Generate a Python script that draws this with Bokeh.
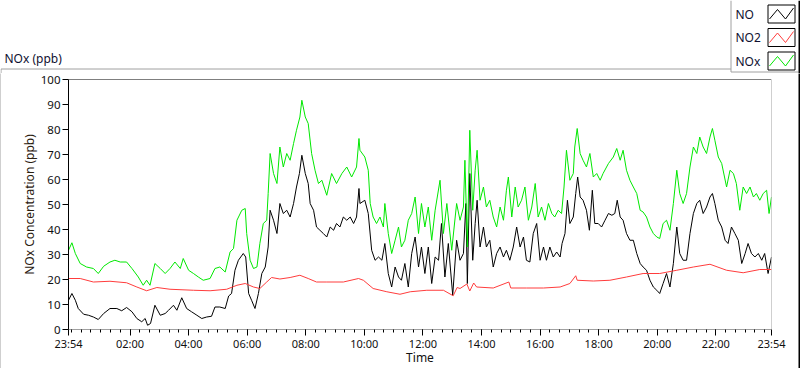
from bokeh.plotting import figure
from bokeh.layouts import column, row
from bokeh.models import Range1d, FixedTicker, Span
from bokeh.core.properties import value
from bokeh.embed import file_html
from bokeh.resources import INLINE

# ---------------- data (minutes after midnight, ppb) ----------------
NO_t = [-6, 1, 8, 14, 25, 35, 45, 55, 66, 79, 93, 103, 113, 124, 134, 144, 151, 156, 162, 171,
        182, 192, 199, 209, 216, 226, 236, 246, 257, 267, 277, 287, 294, 304, 315, 322, 328, 335, 342, 352,
        357, 363, 369, 376, 383, 390, 397, 403, 407, 414, 421, 427, 434, 441, 448, 455, 461, 467, 472, 479,
        485, 489, 496, 502, 509, 516, 523, 530, 537, 543, 550, 557, 564, 571, 578, 584, 589,
        591, 601, 608, 615, 622, 629, 636, 642, 649, 656, 663, 670, 676, 683, 690, 697, 704, 711, 717, 724,
        731, 738, 745, 752, 758, 765, 772, 781, 789, 796, 803, 808, 811, 816, 822, 827, 831, 837, 844, 850,
        857, 864, 871, 878, 885, 891, 898, 905, 912, 919, 926, 932, 939, 946, 953, 960, 967, 973, 980, 987,
        994, 1001, 1005, 1011, 1016, 1021, 1028, 1033, 1037, 1042, 1048, 1055, 1061, 1067, 1072, 1079, 1086, 1093, 1100, 1107,
        1113, 1118, 1124, 1130, 1137, 1144, 1151, 1158, 1165, 1171, 1178, 1185, 1192, 1199, 1205, 1212, 1219, 1226, 1233, 1240,
        1246, 1253, 1260, 1267, 1274, 1281, 1287, 1294, 1301, 1308, 1313, 1318, 1325, 1332, 1339, 1345, 1352, 1359, 1366, 1373,
        1380, 1386, 1393, 1400, 1407, 1414, 1420, 1427, 1434]
NO_v = [11.7, 14.4, 11.7, 8.4, 6.1, 5.7, 5.0, 4.0, 6.4, 8.4, 8.4, 7.5, 8.8, 7.1, 4.4, 3.1, 4.4, 1.7, 2.4, 9.7,
        5.7, 6.4, 7.7, 9.7, 7.7, 12.7, 8.4, 7.1, 5.7, 4.4, 5.0, 5.3, 9.0, 9.0, 8.4, 13.4, 14.4, 23.7, 27.7, 30.4,
        29.0, 14.4, 11.7, 8.4, 14.4, 22.4, 25.0, 33.0, 47.7, 43.7, 38.4, 50.4, 46.4, 47.7, 45.0, 50.4, 57.0, 62.4, 69.7, 62.4,
        58.4, 50.4, 47.7, 41.0, 39.7, 38.4, 37.0, 41.0, 39.7, 42.4, 41.0, 45.0, 43.7, 45.0, 42.4, 45.0, 56.4,
        50.4, 51.7, 46.4, 31.7, 27.7, 29.0, 27.7, 34.4, 22.4, 17.0, 25.0, 21.0, 19.7, 26.4, 17.0, 30.4, 37.0, 25.0, 33.0, 22.4,
        33.0, 18.4, 29.0, 27.7, 42.4, 21.0, 34.4, 13.7, 35.7, 27.7, 30.4, 50.4, 18.4, 62.4, 27.7, 42.4, 51.7, 33.0, 41.0, 33.0,
        35.7, 25.0, 30.4, 33.0, 29.0, 31.7, 27.7, 33.0, 41.0, 33.0, 37.0, 27.7, 27.0, 38.4, 42.4, 27.7, 33.0, 27.7, 33.0, 29.0,
        31.0, 29.0, 34.4, 38.4, 51.7, 42.4, 45.0, 54.4, 61.0, 53.0, 51.7, 47.7, 39.7, 55.7, 42.4, 42.4, 41.0, 43.7, 46.4, 45.7,
        46.4, 51.7, 45.0, 43.7, 38.4, 35.7, 35.7, 30.4, 26.4, 25.0, 23.7, 19.7, 17.0, 15.7, 14.4, 18.4, 22.4, 17.0, 26.4, 41.0,
        30.4, 27.7, 27.7, 38.4, 46.4, 50.4, 51.7, 46.4, 49.0, 53.0, 54.4, 50.4, 43.7, 41.0, 35.7, 34.4, 41.0, 38.4, 35.7, 26.4,
        30.4, 34.4, 30.4, 29.0, 30.4, 27.7, 30.4, 22.4, 29.0]

NO2_t = [-6, 18, 45, 79, 113, 134, 154, 175, 202, 250, 284, 318, 339, 356, 373, 386, 400, 410, 427, 448,
         468, 485, 502, 523, 557, 588, 598, 618, 646, 673, 694, 728, 762, 782, 790, 796, 810, 816, 824, 830,
         864, 896, 900, 932, 967, 1001, 1021, 1033, 1036, 1069, 1103, 1137, 1171, 1205, 1240, 1274, 1308, 1342, 1376, 1410,
         1434]
NO2_v = [20.4, 20.4, 19.0, 19.3, 18.7, 17.0, 15.5, 16.8, 16.1, 15.7, 15.5, 16.1, 17.7, 18.4, 17.0, 16.4, 19.0, 20.8, 20.2, 20.8,
         21.7, 20.4, 19.0, 19.0, 19.0, 20.4, 19.7, 16.4, 15.1, 14.1, 15.1, 15.7, 15.7, 13.5, 16.8, 16.4, 18.2, 15.4, 18.6, 17.0,
         16.6, 19.0, 16.6, 16.6, 16.6, 17.0, 18.4, 21.5, 19.7, 19.4, 19.7, 21.0, 22.4, 22.4, 23.7, 25.0, 26.1, 23.7, 22.7, 24.0,
         24.0]

NOx_t = [-6, 1, 8, 18, 31, 45, 55, 66, 79, 89, 100, 113, 124, 137, 147, 154, 161, 171, 182, 192,
         202, 212, 223, 229, 240, 250, 260, 270, 284, 294, 304, 315, 325, 332, 339, 349, 356, 359, 366, 373,
         380, 386, 393, 400, 403, 407, 414, 421, 427, 434, 441, 448, 455, 461, 468, 472, 479, 485, 492, 499,
         506, 513, 523, 533, 543, 554, 564, 574, 584, 589,
         591, 601, 608, 612, 618, 625, 632, 639, 642, 649, 656, 663, 670, 676, 683, 690, 697, 704, 711, 717,
         724, 731, 738, 745, 755, 762, 769, 779, 789, 796, 803, 806, 811, 816, 822, 827, 831, 837, 844, 850,
         857, 864, 871, 878, 885, 891, 895, 902, 909, 915, 922, 929, 936, 943, 950, 956, 963, 970, 977, 984,
         990, 997, 1004, 1009, 1014, 1021, 1028, 1031, 1036, 1042, 1048, 1055, 1062, 1069, 1076, 1083, 1089, 1100, 1110, 1117,
         1124, 1130, 1137, 1144, 1151, 1158, 1165, 1171, 1178, 1185, 1192, 1199, 1205, 1212, 1219, 1226, 1233, 1240, 1246, 1253,
         1260, 1267, 1274, 1281, 1287, 1294, 1301, 1308, 1313, 1318, 1325, 1332, 1342, 1349, 1356, 1362, 1369, 1376, 1383, 1390,
         1397, 1403, 1410, 1417, 1424, 1429, 1434]
NOx_v = [31.7, 34.7, 30.4, 26.4, 25.0, 24.4, 22.4, 25.3, 27.0, 27.7, 27.0, 27.0, 24.4, 21.0, 17.7, 19.7, 17.7, 26.4, 24.4, 22.4,
         24.4, 27.0, 24.4, 28.4, 23.7, 22.4, 21.0, 19.7, 20.4, 24.4, 25.0, 23.0, 31.0, 32.4, 43.7, 47.7, 48.4, 38.4, 27.7, 24.4,
         25.0, 34.4, 42.4, 43.7, 54.4, 70.4, 62.4, 58.4, 73.0, 65.0, 70.4, 67.7, 74.4, 79.7, 85.0, 91.7, 85.0, 82.4, 70.4, 63.7,
         58.4, 59.7, 53.7, 62.4, 58.4, 62.4, 65.0, 61.0, 65.0, 76.4,
         71.7, 69.0, 63.7, 50.4, 45.0, 42.4, 45.0, 41.0, 50.4, 38.4, 30.4, 35.7, 41.0, 33.0, 35.7, 43.7, 46.4, 53.0, 38.4, 50.4,
         41.0, 49.0, 35.7, 47.7, 59.7, 38.4, 50.4, 31.7, 50.4, 43.7, 49.0, 67.7, 33.0, 79.7, 47.7, 63.7, 71.7, 51.7, 57.0, 49.0,
         51.7, 45.0, 41.0, 49.0, 43.7, 55.7, 61.0, 45.0, 57.0, 49.0, 51.7, 57.0, 43.7, 49.0, 58.4, 45.0, 49.0, 43.7, 50.4, 46.4,
         45.0, 47.7, 46.4, 57.0, 71.7, 59.7, 62.4, 73.0, 80.4, 70.4, 67.7, 65.0, 70.4, 61.0, 62.4, 59.7, 62.4, 66.4, 69.0, 72.4,
         67.7, 71.7, 63.7, 59.7, 57.0, 54.4, 47.7, 47.0, 45.0, 41.0, 38.4, 37.0, 36.4, 42.4, 43.7, 39.7, 50.4, 63.7, 54.4, 50.4,
         54.4, 65.0, 73.0, 70.4, 77.0, 73.0, 70.4, 77.0, 80.4, 75.7, 69.0, 66.4, 57.0, 63.7, 62.4, 58.4, 47.7, 57.0, 54.4, 57.0,
         53.0, 54.4, 51.7, 54.4, 55.7, 46.4, 53.0]

X_TICKS = [-6, 120, 240, 360, 480, 600, 720, 840, 960, 1080, 1200, 1320, 1434]
X_LABELS = ["23:54", "02:00", "04:00", "06:00", "08:00", "10:00", "12:00",
            "14:00", "16:00", "18:00", "20:00", "22:00", "23:54"]
X_MINOR = list(range(0, 1440, 20))
Y_TICKS = list(range(0, 101, 10))
SERIES = ["NO", "NO2", "NOx"]
COLORS = ["#000000", "#ff3c3c", "#00e800"]

XMIN, XMAX, YMIN, YMAX = -6, 1434, 0, 100
FONT = "Noto Sans"
TOP_H = 73
BOT_H = 1
ROW_H = 369 - TOP_H - BOT_H


def strip(w, hgt, color):
    f = figure(width=w, height=hgt, output_backend="svg", toolbar_location=None,
               x_axis_location=None, y_axis_location=None,
               min_border=0, min_border_left=0, min_border_right=0, min_border_top=0, min_border_bottom=0,
               background_fill_color=color, border_fill_color=color)
    f.frame_align = False
    f.outline_line_color = None
    f.grid.visible = False
    return f


# ---------------- header strip (title + legend), pixel coordinates ----------------
h = figure(width=800, height=TOP_H, output_backend="svg", toolbar_location=None,
           x_range=Range1d(0, 800), y_range=Range1d(TOP_H, 0),
           x_axis_location=None, y_axis_location=None,
           min_border=0, min_border_left=0, min_border_right=0, min_border_top=0, min_border_bottom=0)
h.frame_align = False
h.outline_line_color = None
h.grid.visible = False
h.background_fill_color = "white"
h.border_fill_color = "white"

h.text(x=[4], y=[58], text=["NOx (ppb)"], text_font=value(FONT), text_font_size="12px",
       text_color="#101030", text_baseline="middle")
h.line([0.5, 730.5], [68.5, 68.5], line_color="#a0a0a0", line_width=1)
h.line([0.5, 0.5], [68.5, TOP_H], line_color="#a0a0a0", line_width=1)
h.line([730.5, 730.5, 798], [0, 71.5, 71.5], line_color="#a0a0a0", line_width=1)
h.line([799, 799], [0, TOP_H], line_color="#000000", line_width=2)

for i, (name, col) in enumerate(zip(SERIES, COLORS)):
    top = 4.5 + 23.5 * i
    h.text(x=[735], y=[top + 9], text=[name], text_font=value(FONT), text_font_size="12px",
           text_color="#101030", text_baseline="middle")
    h.quad(left=[767.5], right=[794.5], top=[top], bottom=[top + 18],
           fill_color="white", line_color="black", line_width=1)
    zx = [769, 777, 785, 793]
    zy = [top + 14, top + 4.5, top + 14, top + 3]
    h.line(zx, zy, line_color=col, line_width=1)

# ---------------- main chart ----------------
PW = 797
p = figure(width=PW, height=ROW_H, output_backend="svg", toolbar_location=None,
           x_range=Range1d(XMIN, XMAX), y_range=Range1d(YMIN, YMAX),
           min_border_left=67, min_border_right=PW - 67 - 703, min_border_top=79 - TOP_H,
           min_border_bottom=ROW_H - (79 - TOP_H) - 250)
p.frame_align = False
p.outline_line_color = None
p.grid.visible = False
p.background_fill_color = "white"
p.border_fill_color = "white"

for t, v, c in zip([NO_t, NO2_t, NOx_t], [NO_v, NO2_v, NOx_v], COLORS):
    p.line(t, v, line_color=c, line_width=1)

xa = p.xaxis[0]
xa.ticker = FixedTicker(ticks=X_TICKS, minor_ticks=X_MINOR)
xa.major_label_overrides = {t: l for t, l in zip(X_TICKS, X_LABELS)}
xa.axis_line_color = "#a0a0a0"
xa.major_tick_out = 6
xa.major_tick_in = 0
xa.minor_tick_out = 3
xa.minor_tick_in = 0
xa.major_tick_line_color = "black"
xa.minor_tick_line_color = "black"
xa.major_label_text_font = FONT
xa.major_label_text_font_size = "11px"
xa.major_label_text_color = "#101010"
xa.major_label_standoff = 0
xa.axis_label = "Time"
xa.axis_label_text_font = FONT
xa.axis_label_text_font_size = "12px"
xa.axis_label_text_font_style = "normal"
xa.axis_label_text_color = "#101010"
xa.axis_label_standoff = -5

ya = p.yaxis[0]
ya.ticker = FixedTicker(ticks=Y_TICKS)
ya.minor_tick_line_color = None
ya.major_tick_out = 6
ya.major_tick_in = 0
ya.axis_line_color = "black"
ya.major_tick_line_color = "black"
ya.major_label_text_font = FONT
ya.major_label_text_font_size = "11.5px"
ya.major_label_text_color = "#101010"
ya.major_label_standoff = 2
ya.axis_label = "NOx Concentration (ppb)"
ya.axis_label_text_font = FONT
ya.axis_label_text_font_size = "12px"
ya.axis_label_text_font_style = "normal"
ya.axis_label_text_color = "#2a2010"
ya.axis_label_standoff = 0

p.add_layout(Span(location=YMAX, dimension="width", line_color="black", line_width=1))
p.add_layout(Span(location=XMAX, dimension="height", line_color="#a0a0a0", line_width=1))

left_bar = strip(1, ROW_H, "#a0a0a0")
right_bar = strip(800 - PW - 1, ROW_H, "#000000")
bottom_bar = strip(800, BOT_H, "#000000")

layout = column(h, row(left_bar, p, right_bar, spacing=0), bottom_bar, spacing=0)
open("out.html", "w").write(file_html(layout, INLINE))
